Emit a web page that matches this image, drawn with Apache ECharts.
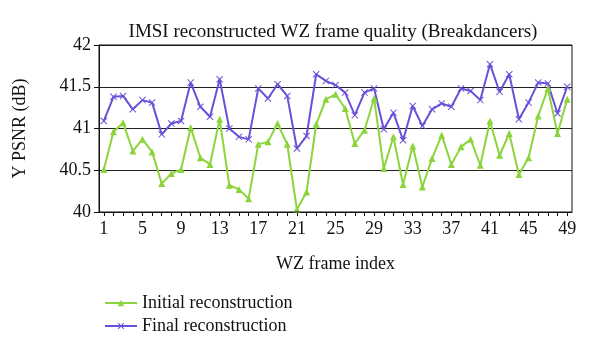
<!DOCTYPE html>
<html>
<head>
<meta charset="utf-8">
<script src="https://cdn.jsdelivr.net/npm/echarts@6/dist/echarts.min.js"></script>
<style>
  html, body { margin: 0; padding: 0; background: #fff; }
  #chart { width: 600px; height: 351px; }
</style>
</head>
<body>
<div id="chart"></div>
<script>
// frame indices 1..49
var frames = [];
for (var i = 1; i <= 49; i++) { frames.push(String(i)); }

// Y PSNR (dB)
var initialRecon = [40.51, 40.96, 41.07, 40.73, 40.87, 40.72, 40.34, 40.46, 40.51, 41.01,
                    40.65, 40.57, 41.11, 40.32, 40.27, 40.16, 40.81, 40.84, 41.06, 40.81,
                    40.03, 40.24, 41.05, 41.35, 41.41, 41.24, 40.82, 40.98, 41.36, 40.52,
                    40.90, 40.33, 40.79, 40.30, 40.64, 40.92, 40.57, 40.78, 40.87, 40.56,
                    41.09, 40.68, 40.94, 40.45, 40.65, 41.15, 41.48, 40.94, 41.35];
var finalRecon   = [41.09, 41.38, 41.39, 41.23, 41.34, 41.31, 40.93, 41.06, 41.09, 41.55,
                    41.26, 41.14, 41.59, 41.00, 40.90, 40.87, 41.48, 41.36, 41.53, 41.39,
                    40.76, 40.91, 41.65, 41.57, 41.52, 41.43, 41.16, 41.43, 41.48, 40.99,
                    41.19, 40.86, 41.27, 41.03, 41.23, 41.30, 41.26, 41.48, 41.45, 41.34,
                    41.77, 41.44, 41.65, 41.11, 41.31, 41.55, 41.54, 41.18, 41.50];

var serif = '"Liberation Serif", "DejaVu Serif", serif';
var crossPath = 'path://M0,1L1,0L5,4L9,0L10,1L6,5L10,9L9,10L5,6L1,10L0,9L4,5Z';

var chart = echarts.init(document.getElementById('chart'));

chart.setOption({
    animation: false,
    title: {
        text: 'IMSI reconstructed WZ frame quality (Breakdancers)',
        left: 328,
        textAlign: 'center',
        top: 18,
        textStyle: { fontFamily: serif, fontWeight: 'normal', fontSize: 19, color: '#111' }
    },
    grid: { left: 99, right: 28, top: 45, bottom: 139 },
    legend: {
        orient: 'vertical',
        left: 99,
        top: 289,
        itemWidth: 32,
        itemHeight: 8,
        itemGap: 5,
        textStyle: { fontFamily: serif, fontSize: 18, color: '#111' },
        data: ['Initial reconstruction', 'Final reconstruction']
    },
    xAxis: {
        type: 'category',
        data: frames,
        boundaryGap: true,
        name: 'WZ frame index',
        nameLocation: 'middle',
        nameGap: 43,
        nameTextStyle: { fontFamily: serif, fontSize: 18, color: '#111' },
        axisLine: { lineStyle: { color: '#111', width: 1 } },
        axisTick: { show: true, interval: 0, alignWithLabel: true, length: 4, lineStyle: { color: '#111' } },
        axisLabel: { interval: 3, fontFamily: serif, fontSize: 18, color: '#111', margin: 8 },
        splitLine: { show: false }
    },
    yAxis: {
        type: 'value',
        min: 40,
        max: 42,
        interval: 0.5,
        name: 'Y PSNR (dB)',
        nameLocation: 'middle',
        nameGap: 70,
        nameTextStyle: { fontFamily: serif, fontSize: 18, color: '#111' },
        axisLine: { show: true, lineStyle: { color: '#111', width: 1 } },
        axisTick: { show: true, length: 5, lineStyle: { color: '#111' } },
        axisLabel: { fontFamily: serif, fontSize: 18, color: '#111', margin: 8 },
        splitLine: { show: true, lineStyle: { color: '#222', width: 1 } }
    },
    series: [
        {
            name: 'Initial reconstruction',
            type: 'line',
            data: initialRecon,
            symbol: 'triangle',
            symbolSize: 7,
            showAllSymbol: true,
            lineStyle: { color: '#8CD43C', width: 2 },
            itemStyle: { color: '#8CD43C' }
        },
        {
            name: 'Final reconstruction',
            type: 'line',
            data: finalRecon,
            symbol: crossPath,
            symbolSize: 7,
            showAllSymbol: true,
            lineStyle: { color: '#6A50D8', width: 2 },
            itemStyle: { color: '#6A50D8' }
        }
    ],
    graphic: [
        // frame around plot area (top and right edges)
        {
            type: 'rect',
            shape: { x: 99, y: 45, width: 473, height: 167 },
            style: { fill: 'none', stroke: '#111', lineWidth: 1 },
            silent: true,
            z: 10
        }
    ]
});
</script>
</body>
</html>
